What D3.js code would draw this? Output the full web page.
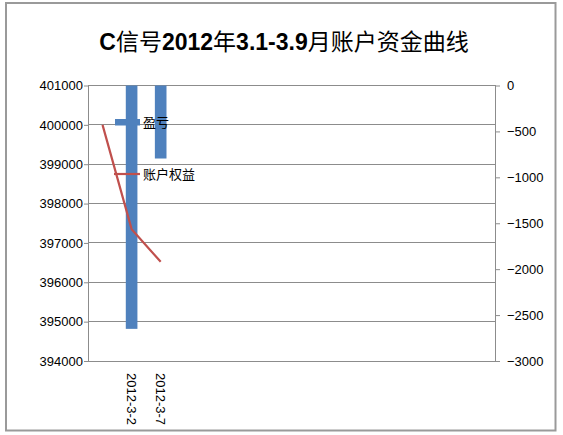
<!DOCTYPE html>
<html>
<head>
<meta charset="utf-8">
<script src="https://cdn.jsdelivr.net/npm/d3@7"></script>
<style>
  html, body { margin: 0; padding: 0; background: #fff; }
  svg { display: block; }
</style>
</head>
<body>
<svg id="chart" width="563" height="435"></svg>
<script>
// ---- data ----
const categories = ["", "2012-3-2", "2012-3-7", "", "", "", "", "", "", "", "", "", "", ""];
const profitValues = [null, -2650, -795, null, null, null, null, null, null, null, null, null, null, null]; // 盈亏 (right axis)
const equityValues = [400000, 397350, 396520]; // 账户权益 (left axis)
const leftTicks = [394000, 395000, 396000, 397000, 398000, 399000, 400000, 401000];
const rightTicks = [-3000, -2500, -2000, -1500, -1000, -500, 0];
const titleParts = [["C", "latin"], ["信号", "cjk"], ["2012", "latin"], ["年", "cjk"], ["3.1-3.9", "latin"], ["月账户资金曲线", "cjk"]];
const legendNames = ["盈亏", "账户权益"];

const svg = d3.select("#chart");
const W = 563, H = 435;
const plot = { left: 88, right: 495, top: 85.5, bottom: 361 };
const blue = "#4F81BD", red = "#C0504D", grid = "#8c8c8c";
const numFont = "'Liberation Sans', Arial, sans-serif";
const cjkFont = "'Noto Sans CJK SC', sans-serif";

svg.append("rect").attr("width", W).attr("height", H).attr("fill", "#fff");
// outer chart border
svg.append("rect").attr("x", 6).attr("y", 3).attr("width", 549.5).attr("height", 427.5)
  .attr("fill", "none").attr("stroke", "#9a9a9a").attr("stroke-width", 2);

// title
const title = svg.append("text").attr("x", 284).attr("y", 50).attr("text-anchor", "middle")
  .attr("font-size", 23).attr("fill", "#000");
titleParts.forEach(([t, k]) => {
  title.append("tspan").text(t)
    .attr("font-family", k === "latin" ? "'Liberation Sans', Arial, sans-serif" : cjkFont)
    .attr("font-weight", k === "latin" ? "bold" : "normal");
});

// scales
const x = d3.scaleBand().domain(d3.range(categories.length)).range([plot.left, plot.right]).padding(0);
const yL = d3.scaleLinear().domain([394000, 401000]).range([plot.bottom, plot.top]);
const yR = d3.scaleLinear().domain([-3000, 0]).range([plot.bottom, plot.top]);

// gridlines
svg.append("g").selectAll("line").data(leftTicks).join("line")
  .attr("x1", plot.left).attr("x2", plot.right)
  .attr("y1", d => yL(d)).attr("y2", d => yL(d))
  .attr("stroke", grid).attr("stroke-width", 1).attr("shape-rendering", "crispEdges");

// plot border
svg.append("rect").attr("x", plot.left).attr("y", plot.top)
  .attr("width", plot.right - plot.left).attr("height", plot.bottom - plot.top)
  .attr("fill", "none").attr("stroke", grid).attr("stroke-width", 1).attr("shape-rendering", "crispEdges");

// left axis
const axL = svg.append("g").attr("transform", `translate(${plot.left},0)`)
  .call(d3.axisLeft(yL).tickValues(leftTicks).tickFormat(d3.format("d")).tickSizeInner(4).tickSizeOuter(0).tickPadding(1));
axL.select(".domain").attr("stroke", grid);
axL.selectAll(".tick line").attr("stroke", grid);
axL.selectAll("text").attr("font-family", numFont).attr("font-size", 13).attr("fill", "#000");

// right axis
const axR = svg.append("g").attr("transform", `translate(${plot.right},0)`)
  .call(d3.axisRight(yR).tickValues(rightTicks).tickFormat(d3.format("d")).tickSizeInner(5).tickSizeOuter(0).tickPadding(7));
axR.select(".domain").attr("stroke", grid);
axR.selectAll(".tick line").attr("stroke", grid);
axR.selectAll("text").attr("font-family", numFont).attr("font-size", 13).attr("fill", "#000");

// bottom axis (category labels rotated)
const axB = svg.append("g").attr("transform", `translate(0,${plot.bottom})`)
  .call(d3.axisBottom(x).tickFormat(i => categories[i]).tickSize(0).tickPadding(0));
axB.select(".domain").attr("stroke", grid);
axB.selectAll(".tick text")
  .attr("font-family", numFont).attr("font-size", 13).attr("fill", "#000")
  .attr("text-anchor", "start").attr("y", 0).attr("x", 0)
  .attr("dy", "0.35em")
  .attr("transform", "translate(0,12) rotate(90)");

// bars (right axis)
const barW = x.bandwidth() * 0.4;
svg.append("g").selectAll("rect")
  .data(profitValues.map((v, i) => ({ v, i })).filter(d => d.v !== null))
  .join("rect")
  .attr("x", d => x(d.i) + x.bandwidth() / 2 - barW / 2)
  .attr("width", barW)
  .attr("y", d => yR(Math.max(0, d.v)))
  .attr("height", d => Math.abs(yR(d.v) - yR(0)))
  .attr("fill", blue);

// line (left axis)
const line = d3.line().x((d, i) => x(i) + x.bandwidth() / 2).y(d => yL(d));
svg.append("path").datum(equityValues).attr("d", line)
  .attr("fill", "none").attr("stroke", red).attr("stroke-width", 2.2);

// legend
const lg = svg.append("g");
lg.append("rect").attr("x", 115).attr("y", 119).attr("width", 25).attr("height", 6.5).attr("fill", blue);
lg.append("text").attr("x", 143).attr("y", 122).attr("dy", "0.35em").text(legendNames[0])
  .attr("font-family", cjkFont).attr("font-size", 13).attr("fill", "#000");
lg.append("line").attr("x1", 114).attr("x2", 140).attr("y1", 174).attr("y2", 174)
  .attr("stroke", red).attr("stroke-width", 2.2);
lg.append("text").attr("x", 143).attr("y", 174).attr("dy", "0.35em").text(legendNames[1])
  .attr("font-family", cjkFont).attr("font-size", 13).attr("fill", "#000");
</script>
</body>
</html>
